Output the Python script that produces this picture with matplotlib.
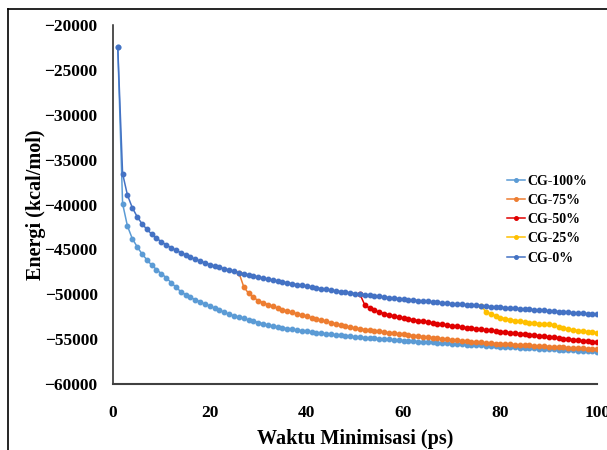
import matplotlib
matplotlib.use("Agg")
import matplotlib.pyplot as plt
from matplotlib.lines import Line2D

plt.rcParams['font.family'] = ['Liberation Serif', 'DejaVu Serif']
plt.rcParams['font.weight'] = 'bold'

# energy (kcal/mol) per ps of minimisation
t_100 = list(range(1, 101))
cg_100 = [
    -22400, -39900, -42400, -43800, -44700, -45500, -46150, -46750, -47250, -47700,
    -48150, -48700, -49200, -49700, -50050, -50350, -50600, -50850, -51100, -51300,
    -51550, -51800, -52000, -52250, -52400, -52550, -52700, -52850, -53000, -53150,
    -53300, -53450, -53550, -53650, -53750, -53850, -53920, -54000, -54070, -54140,
    -54210, -54280, -54340, -54400, -54460, -54520, -54580, -54640, -54700, -54750,
    -54800, -54840, -54880, -54920, -54960, -55000, -55040, -55080, -55120, -55160,
    -55200, -55240, -55270, -55300, -55340, -55370, -55400, -55440, -55470, -55500,
    -55540, -55570, -55610, -55640, -55680, -55710, -55740, -55770, -55800, -55830,
    -55860, -55880, -55910, -55940, -55970, -56000, -56020, -56050, -56080, -56100,
    -56130, -56160, -56190, -56220, -56250, -56280, -56310, -56340, -56370, -56400,
]

t_0 = list(range(1, 101))
cg_0 = [
    -22400, -36550, -38950, -40350, -41350, -42150, -42750, -43300, -43750, -44150,
    -44500, -44800, -45100, -45350, -45600, -45850, -46100, -46300, -46500, -46700,
    -46860, -47010, -47160, -47300, -47440, -47580, -47710, -47840, -47960, -48080,
    -48200, -48310, -48420, -48530, -48630, -48730, -48830, -48930, -49020, -49110,
    -49200, -49290, -49380, -49460, -49540, -49620, -49700, -49780, -49850, -49920,
    -49990, -50060, -50130, -50190, -50250, -50310, -50370, -50430, -50490, -50550,
    -50600, -50650, -50700, -50750, -50800, -50850, -50900, -50950, -51000, -51050,
    -51090, -51130, -51170, -51210, -51250, -51290, -51330, -51370, -51410, -51450,
    -51490, -51530, -51570, -51610, -51650, -51690, -51730, -51770, -51810, -51850,
    -51890, -51930, -51970, -52010, -52050, -52090, -52130, -52170, -52210, -52250,
]

t_75 = list(range(26, 101))
cg_75 = [
    -47580, -49150, -49900, -50350, -50700, -50950, -51150, -51350, -51550, -51720,
    -51880, -52030, -52180, -52330, -52480, -52620, -52760, -52900, -53030, -53160,
    -53290, -53420, -53550, -53680, -53780, -53860, -53940, -54010, -54080, -54150,
    -54220, -54290, -54360, -54420, -54480, -54540, -54600, -54660, -54720, -54780,
    -54840, -54900, -54960, -55020, -55080, -55140, -55190, -55240, -55290, -55330,
    -55370, -55410, -55450, -55490, -55530, -55560, -55590, -55620, -55650, -55680,
    -55710, -55740, -55770, -55800, -55830, -55860, -55890, -55920, -55950, -55980,
    -56010, -56040, -56070, -56100, -56130,
]

t_50 = list(range(51, 101))
cg_50 = [
    -49990, -51200, -51550, -51800, -52000, -52150, -52300, -52430, -52550, -52660,
    -52760, -52850, -52940, -53030, -53110, -53190, -53270, -53350, -53430, -53510,
    -53580, -53650, -53720, -53790, -53860, -53920, -53980, -54040, -54100, -54160,
    -54220, -54280, -54340, -54400, -54460, -54520, -54580, -54640, -54700, -54760,
    -54820, -54880, -54940, -55000, -55060, -55120, -55180, -55240, -55300, -55350,
]

t_25 = list(range(76, 101))
cg_25 = [
    -51290, -51950, -52200, -52400, -52600, -52720, -52830, -52930, -53020, -53100,
    -53170, -53230, -53280, -53320, -53360, -53420, -53650, -53800, -53900, -53980,
    -54050, -54120, -54180, -54230, -54280,
]

series = [
    ('CG-100%', t_100, cg_100, '#5B9BD5'),
    ('CG-75%', t_75, cg_75, '#ED7D31'),
    ('CG-50%', t_50, cg_50, '#E00000'),
    ('CG-25%', t_25, cg_25, '#FFC000'),
    ('CG-0%', t_0, cg_0, '#4472C4'),
]

fig = plt.figure(figsize=(6.07, 4.5), dpi=100)
ax = fig.add_axes([0.186, 0.1467, 0.798, 0.7977])

for name, t, e, col in series:
    ax.plot(t, e, color=col, lw=1.1, marker='o', ms=3.2, mec=col, label=name)

ax.set_xlim(0, 100)
ax.set_ylim(-60000, -20000)
ax.set_xticks([0, 20, 40, 60, 80, 100])
ax.set_yticks(range(-60000, -19999, 5000))
ax.tick_params(length=0, labelsize=12.5)
ax.tick_params(axis='x', pad=15)
ax.tick_params(axis='y', pad=11)
for lab in ax.get_xticklabels() + ax.get_yticklabels():
    lab.set_fontweight('bold')

ax.spines['top'].set_visible(False)
ax.spines['right'].set_visible(False)
ax.spines['left'].set_color('#202020')
ax.spines['bottom'].set_color('#404040')
ax.spines['left'].set_linewidth(1.1)
ax.spines['bottom'].set_linewidth(1.5)

ax.set_xlabel('Waktu Minimisasi (ps)', fontsize=14.5, fontweight='bold', labelpad=6)
ax.set_ylabel('Energi (kcal/mol)', fontsize=14.5, fontweight='bold', labelpad=-1)

ax.legend(loc='center left', bbox_to_anchor=(0.835, 0.512), bbox_transform=fig.transFigure,
          frameon=False, prop={'weight': 'bold', 'size': 10}, handlelength=1.3,
          handletextpad=0.15, labelspacing=0.45, borderpad=0, borderaxespad=0,
          markerscale=0.8)

# outer frame of the original picture (left and top edges)
fig.add_artist(Line2D([0.0124, 0.0124], [0, 0.981], transform=fig.transFigure, color='black', lw=1.2))
fig.add_artist(Line2D([0.0124, 1.0], [0.981, 0.981], transform=fig.transFigure, color='black', lw=1.2))

fig.savefig('out.png', dpi=100)
